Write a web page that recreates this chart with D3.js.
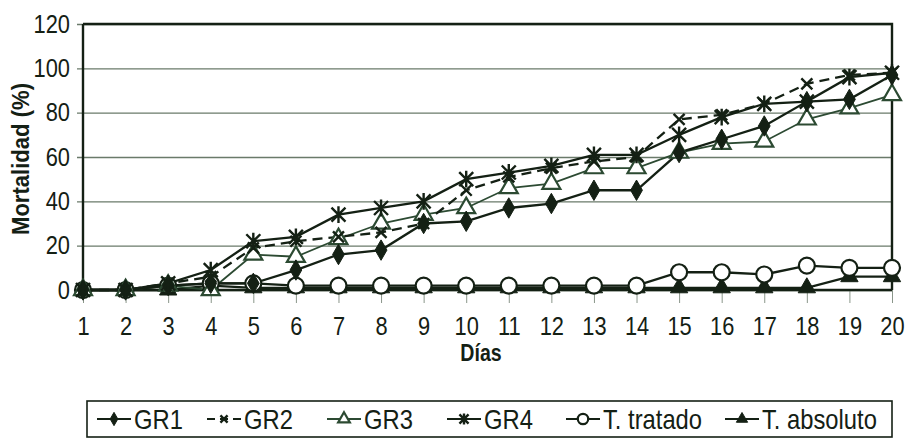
<!DOCTYPE html>
<html>
<head>
<meta charset="utf-8">
<script src="https://cdn.jsdelivr.net/npm/d3@7"></script>
<style>
  html, body { margin: 0; padding: 0; background: #ffffff; }
  svg { display: block; }
</style>
</head>
<body>
<svg id="chart" width="905" height="440"></svg>
<script>
// Días de observación
const days = [1, 2, 3, 4, 5, 6, 7, 8, 9, 10, 11, 12, 13, 14, 15, 16, 17, 18, 19, 20];

// Mortalidad acumulada (%) por tratamiento
const gr1 = [0, 0, 2, 3, 3, 9, 16, 18, 30, 31, 37, 39, 45, 45, 62, 68, 74, 85, 86, 97];
const gr2 = [0, 0, 3, 6, 19, 22, 24, 26, 30, 45, 51, 55, 58, 60, 77, 79, 84, 93, 97, 98];
const gr3 = [0, 0, 2, 0, 16, 15, 23, 30, 34, 37, 46, 48, 55, 55, 62, 66, 67, 77, 82, 88];
const gr4 = [0, 0, 3, 9, 22, 24, 34, 37, 40, 50, 53, 56, 61, 61, 70, 78, 84, 85, 96, 98];
const tTratado = [0, 0, 2, 3, 3, 2, 2, 2, 2, 2, 2, 2, 2, 2, 8, 8, 7, 11, 10, 10];
const tAbsoluto = [0, 0, 0, 2, 1, 1, 1, 1, 1, 1, 1, 1, 1, 1, 1, 1, 1, 1, 6, 6];

const yTicks = [0, 20, 40, 60, 80, 100, 120];
const seriesNames = ["GR1", "GR2", "GR3", "GR4", "T. tratado", "T. absoluto"];

const ink = "#142014";
const gridColor = "#6a7a6a";
const tri3 = "#2c4a32";
const sans = "'Liberation Sans',Arial,sans-serif";
const squeeze = 0.84;

const svg = d3.select("#chart");

const x = d3.scaleLinear().domain([1, 20]).range([83, 892]);
const y = d3.scaleLinear().domain([0, 120]).range([290, 24]);

// Condense a text element horizontally around its anchor point
function condense(sel, k) {
  sel.each(function () {
    const t = d3.select(this);
    const tx = +t.attr("x") || 0;
    t.attr("x", 0).attr("transform", `translate(${tx},0) scale(${k},1)`);
  });
}

// Horizontal gridlines with outward ticks
const yAxis = d3.axisLeft(y).tickValues(yTicks).tickSize(-(x.range()[1] - x.range()[0])).tickSizeOuter(0).tickPadding(13);
const gy = svg.append("g").attr("transform", `translate(${x(1)},0)`).call(yAxis);
gy.select(".domain").remove();
gy.selectAll(".tick line")
  .attr("x1", -6)
  .attr("stroke", gridColor)
  .attr("stroke-width", 1.3);
gy.selectAll(".tick text")
  .attr("font-family", sans)
  .attr("font-size", 26)
  .attr("fill", ink)
  .call(condense, squeeze);

// X axis: category ticks and labels
const xAxis = d3.axisBottom(x).tickValues(days).tickFormat(d3.format("d")).tickSize(13).tickSizeOuter(0).tickPadding(14);
const gx = svg.append("g").attr("transform", `translate(0,${y(0)})`).call(xAxis);
gx.select(".domain").remove();
gx.selectAll(".tick line").attr("stroke", "#8a968a").attr("stroke-width", 1);
gx.selectAll(".tick text")
  .attr("font-family", sans)
  .attr("font-size", 26)
  .attr("fill", ink)
  .call(condense, squeeze);

// Plot frame: left axis, bottom axis, top and right borders
svg.append("line").attr("x1", x(1)).attr("x2", x(20)).attr("y1", y(0)).attr("y2", y(0))
  .attr("stroke", ink).attr("stroke-width", 2.4);
svg.append("line").attr("x1", x(1)).attr("x2", x(1)).attr("y1", y(120)).attr("y2", y(0))
  .attr("stroke", ink).attr("stroke-width", 2.4);
svg.append("path")
  .attr("d", `M${x(1)},${y(120)}H${x(20)}V${y(0)}`)
  .attr("fill", "none").attr("stroke", ink).attr("stroke-width", 2.4);

// Axis titles
svg.append("text")
  .attr("transform", `translate(29,${(y(0) + y(120)) / 2 + 2}) rotate(-90) scale(0.92,1)`)
  .attr("text-anchor", "middle")
  .attr("font-family", sans).attr("font-weight", "bold").attr("font-size", 24)
  .attr("fill", ink)
  .text("Mortalidad (%)");

svg.append("text")
  .attr("transform", "translate(481,361) scale(0.85,1)")
  .attr("text-anchor", "middle")
  .attr("font-family", sans).attr("font-weight", "bold").attr("font-size", 23)
  .attr("fill", ink)
  .text("Días");

// Marker drawing helpers
function xMark(g, s, sw) {
  g.append("path").attr("d", `M${-s},${-s}L${s},${s}M${-s},${s}L${s},${-s}`)
    .attr("stroke", ink).attr("stroke-width", sw).attr("fill", "none");
}
function starMark(g, s, sw) {
  g.append("path").attr("d", `M${-s},${-s}L${s},${s}M${-s},${s}L${s},${-s}M0,${-s * 1.2}V${s * 1.2}`)
    .attr("stroke", ink).attr("stroke-width", sw).attr("fill", "none");
}
const markers = {
  GR1: (g, k) => g.append("path").attr("d", d3.symbol(d3.symbolDiamond, 120 * k * k)())
    .attr("fill", ink).attr("stroke", ink).attr("stroke-width", 1),
  GR2: (g, k) => xMark(g, 5.5 * k, 2.4),
  GR3: (g, k) => g.append("path").attr("d", d3.symbol(d3.symbolTriangle, 140 * k * k)())
    .attr("fill", "#ffffff").attr("stroke", tri3).attr("stroke-width", 2.2),
  GR4: (g, k) => starMark(g, 7 * k, 2.4),
  "T. tratado": (g, k) => g.append("circle").attr("r", 8 * k)
    .attr("fill", "#ffffff").attr("stroke", ink).attr("stroke-width", 2.2),
  "T. absoluto": (g, k) => g.append("path").attr("d", d3.symbol(d3.symbolTriangle, 130 * k * k)())
    .attr("fill", ink).attr("stroke", ink).attr("stroke-width", 1)
};

const series = [
  { name: "GR1", values: gr1, stroke: ink, width: 2.3, dash: null },
  { name: "GR2", values: gr2, stroke: ink, width: 2.3, dash: "10,6" },
  { name: "GR3", values: gr3, stroke: tri3, width: 1.8, dash: null },
  { name: "GR4", values: gr4, stroke: ink, width: 2.3, dash: null },
  { name: "T. tratado", values: tTratado, stroke: ink, width: 2.3, dash: null },
  { name: "T. absoluto", values: tAbsoluto, stroke: ink, width: 2.3, dash: null }
];

const line = d3.line().x((d, i) => x(days[i])).y(d => y(d));

// Lines first, then markers on top
const drawOrder = ["T. absoluto", "T. tratado", "GR3", "GR2", "GR1", "GR4"];
drawOrder.forEach(n => {
  const s = series.find(v => v.name === n);
  svg.append("path")
    .attr("d", line(s.values))
    .attr("fill", "none")
    .attr("stroke", s.stroke)
    .attr("stroke-width", s.width)
    .attr("stroke-dasharray", s.dash);
});
drawOrder.forEach(n => {
  const s = series.find(v => v.name === n);
  s.values.forEach((v, i) => {
    const g = svg.append("g").attr("transform", `translate(${x(days[i])},${y(v)})`);
    markers[n](g, 1);
  });
});

// Legend
const legend = svg.append("g");
legend.append("rect")
  .attr("x", 87).attr("y", 401).attr("width", 805).attr("height", 36)
  .attr("fill", "#ffffff").attr("stroke", ink).attr("stroke-width", 1.6);

const legendX = [97, 207, 327, 447, 566, 725];
seriesNames.forEach((n, i) => {
  const s = series.find(v => v.name === n);
  const x0 = legendX[i];
  const cy = 419;
  legend.append("line")
    .attr("x1", x0).attr("x2", x0 + 34).attr("y1", cy).attr("y2", cy)
    .attr("stroke", s.stroke).attr("stroke-width", 2)
    .attr("stroke-dasharray", s.name === "GR2" ? "8,5" : null);
  const g = legend.append("g").attr("transform", `translate(${x0 + 17},${cy})`);
  markers[n](g, 0.65);
  legend.append("text")
    .attr("transform", `translate(${x0 + 37},${cy + 10}) scale(0.88,1)`)
    .attr("font-family", sans).attr("font-size", 27)
    .attr("fill", ink)
    .text(n);
});
</script>
</body>
</html>
